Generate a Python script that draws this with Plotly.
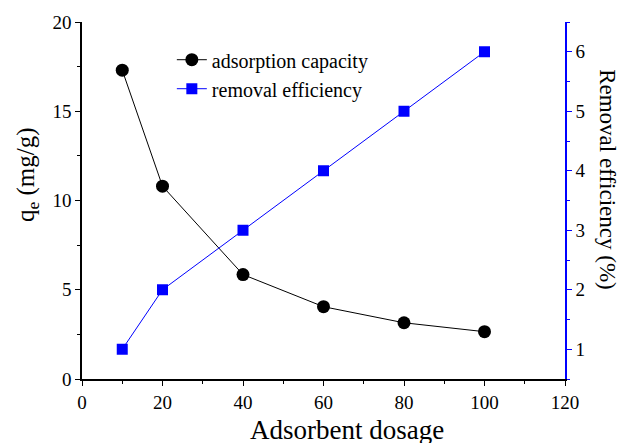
import plotly.graph_objects as go

dosage = [10, 20, 40, 60, 80, 100]
capacity = [17.3, 10.8, 5.85, 4.05, 3.15, 2.65]
efficiency = [1, 2, 3, 4, 5, 6]

FONT = "Liberation Serif"
BLUE = "#0000FF"

fig = go.Figure()
fig.add_trace(go.Scatter(
    x=dosage, y=capacity, name="adsorption capacity",
    mode="lines+markers",
    line=dict(color="black", width=1),
    marker=dict(symbol="circle", size=13, color="black"),
))
fig.add_trace(go.Scatter(
    x=dosage, y=efficiency, name="removal efficiency",
    mode="lines+markers", yaxis="y2",
    line=dict(color=BLUE, width=1),
    marker=dict(symbol="square", size=11, color=BLUE),
))

fig.update_layout(
    width=626, height=443,
    margin=dict(l=82, r=61, t=22, b=64),
    plot_bgcolor="white", paper_bgcolor="white",
    font=dict(family=FONT, size=19, color="black"),
    showlegend=True,
    legend=dict(x=0.186, y=0.949, xanchor="left", yanchor="top",
                bgcolor="rgba(0,0,0,0)", font=dict(size=20, family=FONT),
                itemwidth=30, tracegroupgap=0),
    xaxis=dict(
        range=[0, 120], tickvals=[0, 20, 40, 60, 80, 100, 120],
        showgrid=False, zeroline=False,
        showline=True, linecolor="black", linewidth=1.5,
        ticks="outside", ticklen=5, tickwidth=1, tickcolor="black",
        minor=dict(tickvals=[10, 30, 50, 70, 90, 110], ticks="outside", ticklen=3, tickcolor="black"),
        tickfont=dict(size=19, family=FONT),
    ),
    xaxis2=dict(
        overlaying="x", side="top", range=[0, 120],
        tickvals=[0, 20, 40, 60, 80, 100, 120], showticklabels=False,
        showgrid=False, zeroline=False,
        showline=True, linecolor="black", linewidth=1.5,
        ticks="inside", ticklen=5, tickwidth=1, tickcolor="black",
        minor=dict(tickvals=[10, 30, 50, 70, 90, 110], ticks="inside", ticklen=3, tickcolor="black"),
    ),
    yaxis=dict(
        range=[0, 20], tickvals=[0, 5, 10, 15, 20],
        showgrid=False, zeroline=False,
        showline=True, linecolor="black", linewidth=1.5,
        ticks="outside", ticklen=5, tickwidth=1, tickcolor="black",
        minor=dict(tickvals=[2.5, 7.5, 12.5, 17.5], ticks="outside", ticklen=3, tickcolor="black"),
        tickfont=dict(size=19, family=FONT),
    ),
    yaxis2=dict(
        overlaying="y", side="right", range=[0.5, 6.5],
        tickvals=[1, 2, 3, 4, 5, 6],
        showgrid=False, zeroline=False,
        showline=True, linecolor=BLUE, linewidth=1.5,
        ticks="outside", ticklen=5, tickwidth=1, tickcolor=BLUE,
        minor=dict(tickvals=[0.5, 1.5, 2.5, 3.5, 4.5, 5.5, 6.5], ticks="outside", ticklen=3, tickcolor=BLUE),
        tickfont=dict(size=19, family=FONT, color="black"),
    ),
    annotations=[
        dict(text="Adsorbent dosage", xref="paper", yref="paper",
             x=0.549, y=-0.143, xanchor="center", yanchor="middle", showarrow=False,
             font=dict(size=27, family=FONT, color="black")),
        dict(text="q<sub>e</sub> (mg/g)", textangle=-90, xref="paper", yref="paper",
             x=-0.114, y=0.574, xanchor="center", yanchor="middle", showarrow=False,
             font=dict(size=25, family=FONT, color="black")),
        dict(text="Removal efficiency (%)", textangle=90, xref="paper", yref="paper",
             x=1.089, y=0.557, xanchor="center", yanchor="middle", showarrow=False,
             font=dict(size=23, family=FONT, color="black")),
    ],
)

fig.write_html("out.html")
